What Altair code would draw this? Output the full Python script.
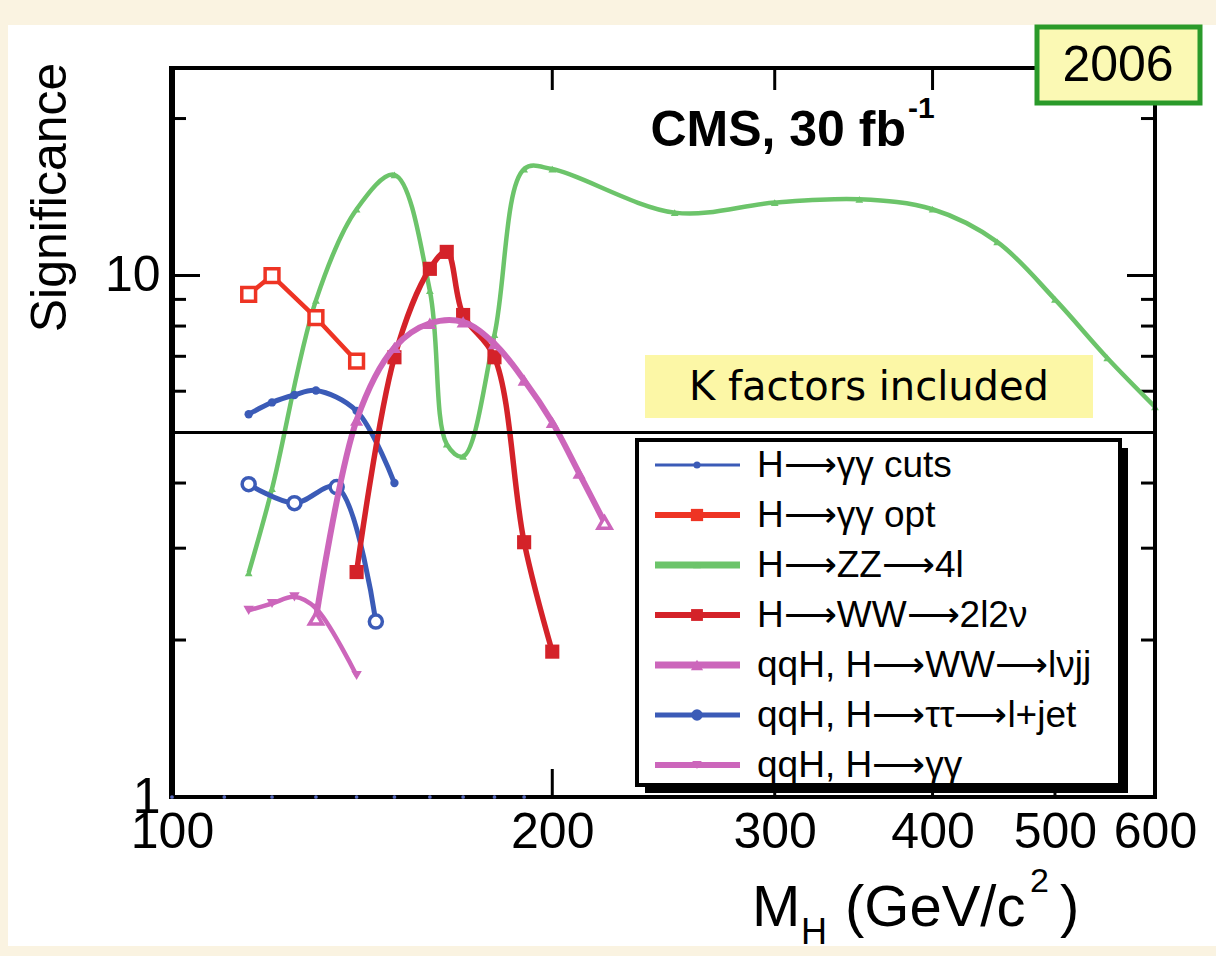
import altair as alt
import pandas as pd

# ---- Higgs discovery significance vs. mass, CMS 30 fb^-1 ----
gg_cuts_mass = [115, 120, 125, 130, 140, 150]
gg_cuts_sig = [5.42, 5.71, 5.9, 6.02, 5.5, 4.0]

gg_opt_mass = [115, 120, 130, 140]
gg_opt_sig = [9.2, 10.0, 8.3, 6.85]

zz_mass = [115, 120, 130, 140, 150, 160, 165, 170, 180, 190, 200,
           250, 300, 350, 400, 450, 500, 550, 600]
zz_sig = [2.69, 3.9, 8.96, 13.4, 15.6, 9.35, 4.75, 4.5, 7.7, 16.0, 16.0,
          13.2, 13.8, 14.0, 13.4, 11.6, 9.0, 6.95, 5.6]

ww2l_mass = [140, 150, 160, 165, 170, 180, 190, 200]
ww2l_sig = [2.7, 6.97, 10.3, 11.1, 8.4, 6.97, 3.08, 1.9]

lvjj_mass = [130, 140, 150, 160, 170, 180, 190, 200, 210, 220]
lvjj_sig = [2.2, 5.28, 7.28, 8.1, 8.15, 7.4, 6.3, 5.23, 4.18, 3.36]

tautau_mass = [115, 125, 135, 145]
tautau_sig = [3.98, 3.66, 3.93, 2.17]

qqh_gg_mass = [115, 120, 125, 130, 140]
qqh_gg_sig = [2.28, 2.35, 2.42, 2.3, 1.71]

# dotted trace lying on the lower edge of the frame
floor_mass = [100, 110, 120, 130, 140, 150, 160, 170, 180, 190]
floor_sig = [1, 1, 1, 1, 1, 1, 1, 1, 1, 1]

series_names = ["H⟶γγ cuts", "H⟶γγ opt", "H⟶ZZ⟶4l", "H⟶WW⟶2l2ν",
                "qqH, H⟶WW⟶lνjj", "qqH, H⟶ττ⟶l+jet", "qqH, H⟶γγ"]

discovery_level = [5]
x_tick_labels = [100, 200, 300, 400, 500, 600]
y_tick_labels = [1, 10]
x_major_ticks = [200, 300, 400, 500]
y_minor_ticks = [2, 3, 4, 5, 6, 7, 8, 9, 20]
y_major_ticks = [10]

# ---- layout ----
W, H = 983, 729
PAD_L, PAD_T = 172, 68
SANS = "Liberation Sans, Arial, Helvetica, sans-serif"

BLUE = "#3b5bb7"
RED_OPT = "#ee3424"
GREEN = "#6cc46a"
RED_WW = "#d42229"
MAGENTA = "#cc66bb"

# name: (mass, significance, colour, line width, shape, marker size, interpolation, open marker)
styles = {
    "H⟶ZZ⟶4l": (zz_mass, zz_sig, GREEN, 4.5, "triangle-up", 60, "catmull-rom", False),
    "H⟶γγ cuts": (gg_cuts_mass, gg_cuts_sig, BLUE, 5, "circle", 70, "catmull-rom", False),
    "H⟶γγ opt": (gg_opt_mass, gg_opt_sig, RED_OPT, 4.5, "square", 190, "linear", True),
    "qqH, H⟶ττ⟶l+jet": (tautau_mass, tautau_sig, BLUE, 5, "circle", 170, "catmull-rom", True),
    "H⟶WW⟶2l2ν": (ww2l_mass, ww2l_sig, RED_WW, 5.5, "square", 200, "catmull-rom", False),
    "qqH, H⟶γγ": (qqh_gg_mass, qqh_gg_sig, MAGENTA, 4.5, "triangle-down", 110, "catmull-rom", False),
    "qqH, H⟶WW⟶lνjj": (lvjj_mass, lvjj_sig, MAGENTA, 6, "triangle-up", 170, "catmull-rom", False),
}
lvjj_open_masses = [130, 220]

x_enc = alt.X(
    "mass:Q",
    scale=alt.Scale(type="log", domain=[100, 600], nice=False),
    axis=alt.Axis(values=x_tick_labels, format="d", ticks=False, domain=False,
                  grid=False, labelFont=SANS, labelFontSize=50,
                  labelColor="black", labelPadding=10, labelFlush=False,
                  labelOverlap=False, title=None, zindex=1),
)
y_enc = alt.Y(
    "sig:Q",
    scale=alt.Scale(type="log", domain=[1, 25], nice=False),
    axis=alt.Axis(values=y_tick_labels, format="d", ticks=False, domain=False,
                  grid=False, labelFont=SANS, labelFontSize=50,
                  labelColor="black", labelPadding=12, labelFlush=False,
                  labelOverlap=False, title="Significance", titleFont=SANS,
                  titleFontSize=50, titleFontWeight="normal", titleColor="black",
                  titleAngle=270, titleX=-122, titleY=129, titleAlign="center",
                  titleBaseline="middle", zindex=1),
)

ONE = alt.Data(values=[{"k": 0}])


def box(x1, y1, x2, y2, **kw):
    return alt.Chart(ONE).mark_rect(**kw).encode(
        x=alt.value(x1), x2=alt.value(x2), y=alt.value(y1), y2=alt.value(y2))


def label(x, y, text, **kw):
    return alt.Chart(ONE).mark_text(text=text, **kw).encode(
        x=alt.value(x), y=alt.value(y))


def hseg(x1, x2, y, **kw):
    return alt.Chart(ONE).mark_rule(**kw).encode(
        x=alt.value(x1), x2=alt.value(x2), y=alt.value(y))


def vseg(x, y1, y2, **kw):
    return alt.Chart(ONE).mark_rule(**kw).encode(
        x=alt.value(x), y=alt.value(y1), y2=alt.value(y2))


def dot(x, y, **kw):
    return alt.Chart(ONE).mark_point(**kw).encode(x=alt.value(x), y=alt.value(y))


layers = []
# white sheet behind the figure
layers.append(box(8 - PAD_L, 25 - PAD_T, 1216 - PAD_L + 5, 946 - PAD_T, color="white"))

# tick marks pointing into the frame
ymin_df = pd.DataFrame({"sig": y_minor_ticks})
ymaj_df = pd.DataFrame({"sig": y_major_ticks})
xmaj_df = pd.DataFrame({"mass": x_major_ticks})
tick_style = dict(color="black", strokeWidth=3)
layers += [
    alt.Chart(ymin_df).mark_rule(**tick_style).encode(y=y_enc, x=alt.value(0), x2=alt.value(14)),
    alt.Chart(ymin_df).mark_rule(**tick_style).encode(y=y_enc, x=alt.value(W - 14), x2=alt.value(W)),
    alt.Chart(ymaj_df).mark_rule(**tick_style).encode(y=y_enc, x=alt.value(0), x2=alt.value(28)),
    alt.Chart(ymaj_df).mark_rule(**tick_style).encode(y=y_enc, x=alt.value(W - 28), x2=alt.value(W)),
    alt.Chart(xmaj_df).mark_rule(**tick_style).encode(x=x_enc, y=alt.value(H - 28), y2=alt.value(H)),
    alt.Chart(xmaj_df).mark_rule(**tick_style).encode(x=x_enc, y=alt.value(0), y2=alt.value(22)),
]

# curves
for name, (m, s, col, lw, shape, size, interp, is_open) in styles.items():
    df = pd.DataFrame({"mass": m, "sig": s})
    layers.append(
        alt.Chart(df).mark_line(color=col, strokeWidth=lw, interpolate=interp,
                                strokeJoin="round")
        .encode(x=x_enc, y=y_enc)
    )
    if name == "qqH, H⟶WW⟶lνjj":
        df_open = df[df["mass"].isin(lvjj_open_masses)]
        df_fill = df[~df["mass"].isin(lvjj_open_masses)]
    elif is_open:
        df_open, df_fill = df, df.iloc[0:0]
    else:
        df_open, df_fill = df.iloc[0:0], df
    if len(df_fill):
        layers.append(
            alt.Chart(df_fill).mark_point(shape=shape, size=size, filled=True,
                                          color=col, opacity=1)
            .encode(x=x_enc, y=y_enc)
        )
    if len(df_open):
        layers.append(
            alt.Chart(df_open).mark_point(shape=shape, size=size, fill="white",
                                          stroke=col, strokeWidth=3.5,
                                          fillOpacity=1, opacity=1)
            .encode(x=x_enc, y=y_enc)
        )

# 5 sigma line
layers.append(
    alt.Chart(pd.DataFrame({"sig": discovery_level}))
    .mark_rule(color="black", strokeWidth=3)
    .encode(y=y_enc, x=alt.value(0), x2=alt.value(W))
)

# frame, heavier on the left
layers.append(box(0, 0, W, H, fillOpacity=0, stroke="black", strokeWidth=4))
layers.append(vseg(0, -2, H + 2, color="black", strokeWidth=6))

# dotted trace on the floor
layers.append(
    alt.Chart(pd.DataFrame({"mass": floor_mass, "sig": floor_sig}))
    .mark_point(shape="circle", size=14, filled=True, color="#5a6cc0", opacity=1)
    .encode(x=x_enc, y=y_enc)
)

# "K factors included" note
kx1, ky1, kx2, ky2 = 645 - PAD_L, 355 - PAD_T, 1093 - PAD_L, 418 - PAD_T
layers.append(box(kx1, ky1, kx2, ky2, color="#fcf7a6"))
layers.append(label((kx1 + kx2) / 2, (ky1 + ky2) / 2 + 1, "K factors included",
                    font="DejaVu Sans", fontSize=40, color="black",
                    align="center", baseline="middle"))

# CMS label
layers.append(label(906 - PAD_L, 146 - PAD_T, "CMS, 30 fb", font=SANS,
                    fontWeight="bold", fontSize=50, color="black",
                    align="right", baseline="alphabetic"))
layers.append(label(908 - PAD_L, 118 - PAD_T, "-1", font=SANS,
                    fontWeight="bold", fontSize=30, color="black",
                    align="left", baseline="alphabetic"))

# legend
lx1, ly1, lx2, ly2 = 637 - PAD_L, 440 - PAD_T, 1120 - PAD_L, 785 - PAD_T
layers.append(box(lx1 + 8, ly1 + 8, lx2 + 8, ly2 + 8, color="black"))
layers.append(box(lx1, ly1, lx2, ly2, fill="white", stroke="black", strokeWidth=4))
legend_look = {
    "H⟶γγ cuts": (BLUE, 3, "circle", 50),
    "H⟶γγ opt": (RED_OPT, 6, "square", 150),
    "H⟶ZZ⟶4l": (GREEN, 7, "triangle-up", 60),
    "H⟶WW⟶2l2ν": (RED_WW, 6, "square", 140),
    "qqH, H⟶WW⟶lνjj": (MAGENTA, 7, "triangle-up", 150),
    "qqH, H⟶ττ⟶l+jet": (BLUE, 5, "circle", 130),
    "qqH, H⟶γγ": (MAGENTA, 6, "triangle-down", 90),
}
for i, name in enumerate(series_names):
    col, lw, shape, size = legend_look[name]
    yy = 465 - PAD_T + 50 * i
    layers.append(hseg(655 - PAD_L, 740 - PAD_L, yy, color=col, strokeWidth=lw))
    layers.append(dot(697 - PAD_L, yy, shape=shape, size=size, filled=True,
                      color=col, opacity=1))
    layers.append(label(757 - PAD_L, yy + 1, name, font=SANS, fontSize=37,
                        color="black", align="left", baseline="middle"))

# x axis title: M_H (GeV/c^2)
layers += [
    label(752 - PAD_L, 926 - PAD_T, "M", font=SANS, fontSize=58, color="black",
          align="left", baseline="alphabetic"),
    label(801 - PAD_L, 944 - PAD_T, "H", font=SANS, fontSize=36, color="black",
          align="left", baseline="alphabetic"),
    label(845 - PAD_L, 926 - PAD_T, "(GeV/c", font=SANS, fontSize=58,
          color="black", align="left", baseline="alphabetic"),
    label(1030 - PAD_L, 892 - PAD_T, "2", font=SANS, fontSize=34, color="black",
          align="left", baseline="alphabetic"),
    label(1060 - PAD_L, 926 - PAD_T, ")", font=SANS, fontSize=58, color="black",
          align="left", baseline="alphabetic"),
]

# year tag
layers.append(box(1037 - PAD_L, 27 - PAD_T, 1200 - PAD_L, 103 - PAD_T,
                  fill="#fbf9b4", stroke="#2a9a2a", strokeWidth=5))
layers.append(label(1118 - PAD_L, 66 - PAD_T, "2006", font=SANS, fontSize=50,
                    color="black", align="center", baseline="middle"))

chart = alt.layer(*layers).properties(
    width=W,
    height=H,
    autosize=alt.AutoSizeParams(type="none"),
    padding={"left": PAD_L, "top": PAD_T, "right": 1216 - PAD_L - W,
             "bottom": 956 - PAD_T - H},
    background="#faf3e1",
).configure_view(strokeWidth=0)

chart.save("out.html", embed_options={"renderer": "svg", "actions": False})
